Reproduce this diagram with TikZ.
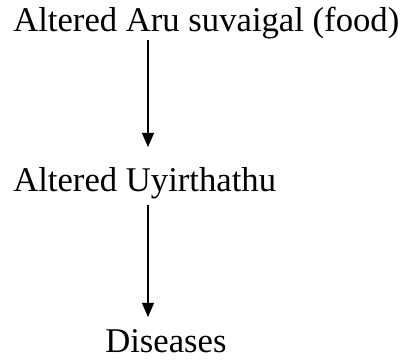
\documentclass[tikz,border=0pt]{standalone}
\usepackage{fontspec}
\setmainfont{Liberation Serif}
\usetikzlibrary{positioning,arrows.meta}

\begin{document}
\begin{tikzpicture}[x=0.75pt, y=-0.75pt, every node/.style={inner sep=0pt, anchor=base west, font=\fontsize{26}{30}\selectfont}, flow/.style={-{Triangle[length=10.5pt,width=9pt]}, line width=0.8pt}]
\useasboundingbox (0,0) rectangle (404,363);
\node (food) at (13,32) {Altered Aru suvaigal (food)};
\node (uyir) at (13,192) {Altered Uyirthathu};
\node (dis) at (105,353) {Diseases};
\coordinate (t1) at (148,147);
\coordinate (t2) at (148,317);
\draw[flow] (food.south -| t1) -- (t1);
\draw[flow, shorten <=4pt] (uyir.south -| t2) -- (t2);
\end{tikzpicture}
\end{document}
